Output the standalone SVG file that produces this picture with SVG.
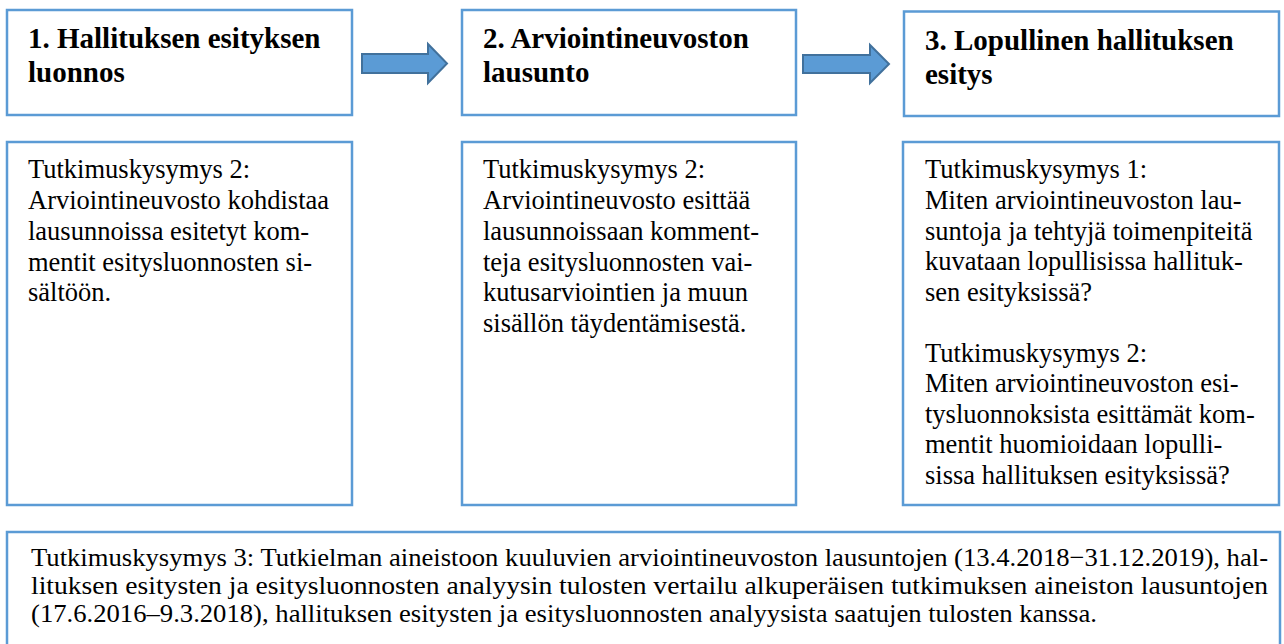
<svg xmlns="http://www.w3.org/2000/svg" width="1284" height="644" viewBox="0 0 1284 644">
  <style>
    .box { fill: #FFFFFF; stroke: #5B9BD5; stroke-width: 2.5; }
    .title { font-family: "Liberation Serif", "Times New Roman", serif; font-weight: bold; font-size: 29px; fill: #000000; }
    .body { font-family: "Liberation Serif", "Times New Roman", serif; font-size: 26.5px; fill: #000000; }
    .foot { font-family: "Liberation Serif", "Times New Roman", serif; font-size: 26px; fill: #000000; }
    .arrow { fill: #5B9BD5; stroke: #41719C; stroke-width: 2; stroke-linejoin: miter; }
  </style>
  <rect width="1284" height="644" fill="#FFFFFF"/>

  <g id="node-step1">
    <rect class="box" x="7" y="10" width="345" height="105"/>
    <text class="title" x="28" y="48">1. Hallituksen esityksen</text>
    <text class="title" x="28" y="82">luonnos</text>
  </g>

  <g id="node-step2">
    <rect class="box" x="462" y="10" width="334" height="105"/>
    <text class="title" x="483" y="48">2. Arviointineuvoston</text>
    <text class="title" x="483" y="82">lausunto</text>
  </g>

  <g id="node-step3">
    <rect class="box" x="904" y="11.5" width="375" height="104.5"/>
    <text class="title" x="925" y="50">3. Lopullinen hallituksen</text>
    <text class="title" x="925" y="84">esitys</text>
  </g>

  <g id="node-q1">
    <rect class="box" x="7" y="142" width="345" height="363"/>
    <text class="body" x="28" y="178">Tutkimuskysymys 2:</text>
    <text class="body" x="28" y="209">Arviointineuvosto kohdistaa</text>
    <text class="body" x="28" y="240">lausunnoissa esitetyt kom-</text>
    <text class="body" x="28" y="270.5">mentit esitysluonnosten si-</text>
    <text class="body" x="28" y="301">sältöön.</text>
  </g>

  <g id="node-q2">
    <rect class="box" x="462" y="142" width="334" height="363"/>
    <text class="body" x="483" y="178">Tutkimuskysymys 2:</text>
    <text class="body" x="483" y="209">Arviointineuvosto esittää</text>
    <text class="body" x="483" y="240">lausunnoissaan komment-</text>
    <text class="body" x="483" y="270.5">teja esitysluonnosten vai-</text>
    <text class="body" x="483" y="301">kutusarviointien ja muun</text>
    <text class="body" x="483" y="331.5">sisällön täydentämisestä.</text>
  </g>

  <g id="node-q3">
    <rect class="box" x="903" y="142" width="376" height="363"/>
    <text class="body" x="925" y="178">Tutkimuskysymys 1:</text>
    <text class="body" x="925" y="209">Miten arviointineuvoston lau-</text>
    <text class="body" x="925" y="239.5">suntoja ja tehtyjä toimenpiteitä</text>
    <text class="body" x="925" y="270">kuvataan lopullisissa hallituk-</text>
    <text class="body" x="925" y="300.5">sen esityksissä?</text>
    <text class="body" x="925" y="361.5">Tutkimuskysymys 2:</text>
    <text class="body" x="925" y="392">Miten arviointineuvoston esi-</text>
    <text class="body" x="925" y="422.5">tysluonnoksista esittämät kom-</text>
    <text class="body" x="925" y="453">mentit huomioidaan lopulli-</text>
    <text class="body" x="925" y="483.5">sissa hallituksen esityksissä?</text>
  </g>

  <g id="node-q4">
    <rect class="box" x="7" y="532" width="1273" height="116"/>
    <text class="foot" x="31" y="566" textLength="1237" lengthAdjust="spacingAndGlyphs">Tutkimuskysymys 3: Tutkielman aineistoon kuuluvien arviointineuvoston lausuntojen (13.4.2018−31.12.2019), hal-</text>
    <text class="foot" x="31" y="594" textLength="1237" lengthAdjust="spacingAndGlyphs">lituksen esitysten ja esitysluonnosten analyysin tulosten vertailu alkuperäisen tutkimuksen aineiston lausuntojen</text>
    <text class="foot" x="31" y="622" textLength="1066" lengthAdjust="spacingAndGlyphs">(17.6.2016–9.3.2018), hallituksen esitysten ja esitysluonnosten analyysista saatujen tulosten kanssa.</text>
  </g>

  <g id="connectors">
    <polygon class="arrow" points="362,54 428,54 428,44 447,63.5 428,83 428,73 362,73"/>
    <polygon class="arrow" points="803,55 870,55 870,45 889,64 870,83 870,73 803,73"/>
  </g>
</svg>
